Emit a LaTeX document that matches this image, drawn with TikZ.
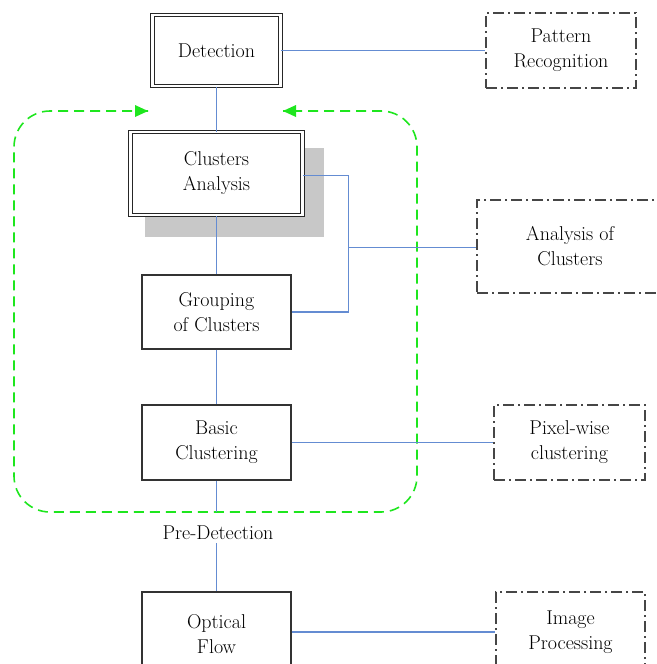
\documentclass[tikz,border=0pt]{standalone}
\usetikzlibrary{arrows.meta}
\definecolor{linkblue}{RGB}{100,140,210}
\definecolor{grpgreen}{RGB}{30,230,30}
\definecolor{dashgray}{RGB}{70,70,70}
\definecolor{shadowgray}{RGB}{200,200,200}
\tikzset{
  txt/.style={font=\rmfamily\fontsize{20}{25}\selectfont, align=center, inner sep=0pt},
  mainbox/.style={txt, draw=black!80, line width=1.3pt, fill=white},
  dblbox/.style={txt, draw=black!85, line width=1pt, double=white, double distance=2.2pt, fill=white},
  sidebox/.style={txt, draw=dashgray, line width=1.5pt, dash pattern=on 11pt off 4pt on 2pt off 4pt},
  conn/.style={draw=linkblue, line width=1.2pt},
  grp/.style={draw=grpgreen, line width=1.6pt, dash pattern=on 10pt off 6pt, rounded corners=36pt}
}
\begin{document}
\begin{tikzpicture}[x=1pt,y=-1pt]
\useasboundingbox (0,0) rectangle (656,664);
\clip (0,0) rectangle (656,664);
% shadow
\fill[shadowgray] (145,148) rectangle (324,237);
% main chain
\node[dblbox, minimum width=128pt, minimum height=71pt] (det) at (216.5,50.5) {Detection};
\node[dblbox, minimum width=172pt, minimum height=83pt] (ca) at (216.5,173.5) {Clusters\\Analysis};
\node[mainbox, minimum width=149pt, minimum height=74pt] (goc) at (216.5,312) {Grouping\\of Clusters};
\node[mainbox, minimum width=149pt, minimum height=75pt] (bc) at (216.5,442.5) {Basic\\Clustering};
\node[txt, inner sep=3pt] (pd) at (218,533) {Pre-Detection};
\node[mainbox, minimum width=149pt, minimum height=84pt] (of) at (216.5,634) {Optical\\Flow};
% side boxes
\node[sidebox, minimum width=150pt, minimum height=75pt] (pr) at (561,50.5) {Pattern\\Recognition};
\node[sidebox, minimum width=186pt, minimum height=93pt] (aoc) at (570,246.5) {Analysis of\\Clusters};
\node[sidebox, minimum width=151pt, minimum height=75pt] (pw) at (569.5,442.5) {Pixel-wise\\clustering};
\node[sidebox, minimum width=149pt, minimum height=80pt] (ip) at (570.5,632) {Image\\Processing};
% group outline
\coordinate (gl) at (148,111);
\coordinate (gr) at (283,111);
\coordinate (gbl) at (14,512);
\coordinate (gtr) at (417,111);
\draw[grp] (gl) -| (gbl) -| (gtr) -- (gr);
\fill[grpgreen] (gl) -- ++(-13,-6) -- ++(0,12) -- cycle;
\fill[grpgreen] (gr) -- ++(13,-6) -- ++(0,12) -- cycle;
% connectors
\coordinate (j1) at (348.5,175.5);
\coordinate (j2) at (348.5,247.5);
\coordinate (gb) at (216.5,512);
\draw[conn] (det.east) -- (pr.west);
\draw[conn] (det.south) -- (ca.north);
\draw[conn] (ca.south) -- (goc.north);
\draw[conn] (goc.south) -- (bc.north);
\draw[conn] (bc.south) -- (gb);
\draw[conn] (of.north |- pd.south) -- (of.north);
\draw[conn] (ca.east |- j1) -- (j1) |- (goc.east);
\draw[conn] (j2) -- (aoc.west |- j2);
\draw[conn] (bc.east) -- (pw.west);
\draw[conn] (of.east |- ip.west) -- (ip.west);
\end{tikzpicture}
\end{document}
